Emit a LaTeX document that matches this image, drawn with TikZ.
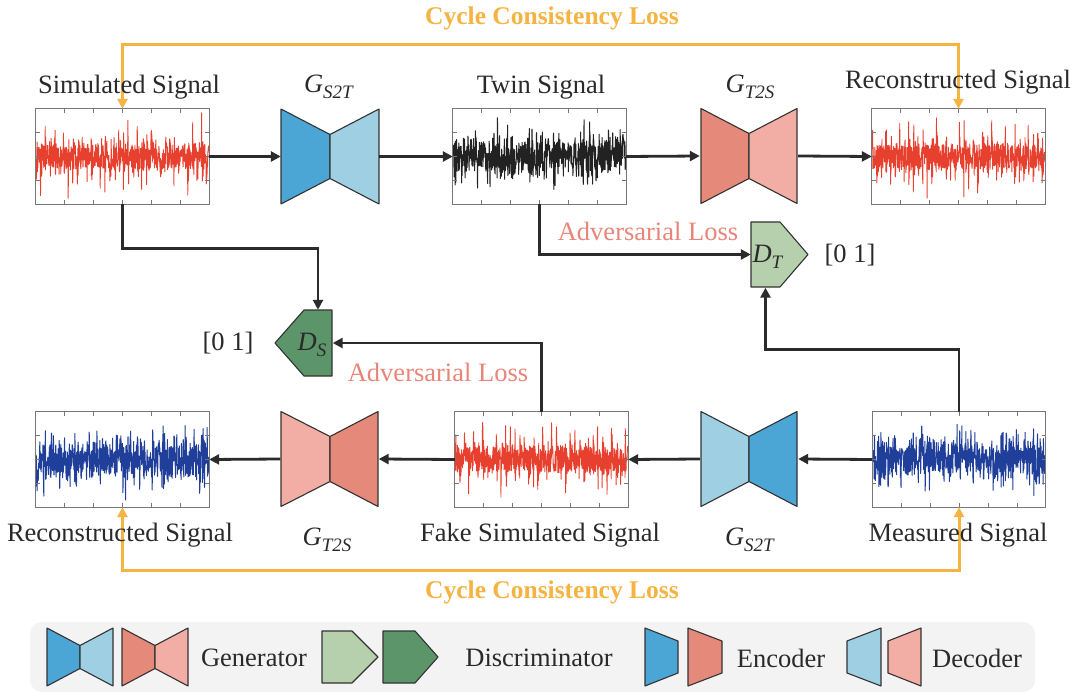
\documentclass[tikz,border=0pt]{standalone}
\usepackage{fontspec}
\setmainfont{Liberation Serif}
\usetikzlibrary{arrows.meta,calc}
\definecolor{encB}{HTML}{4BA5D5}
\definecolor{decB}{HTML}{9FCFE3}
\definecolor{encR}{HTML}{E5897B}
\definecolor{decR}{HTML}{F2ADA4}
\definecolor{discL}{HTML}{B6D0AD}
\definecolor{discD}{HTML}{5B9569}
\definecolor{edgec}{HTML}{333333}
\definecolor{arrowc}{HTML}{2B2B2B}
\definecolor{cycc}{HTML}{F5B342}
\definecolor{advc}{HTML}{E8857A}
\definecolor{boxgray}{HTML}{777777}
\definecolor{sigred}{HTML}{E8402E}
\definecolor{sigblue}{HTML}{1F3F9A}
\definecolor{sigblack}{HTML}{222222}
\definecolor{legbg}{HTML}{F3F3F3}
\definecolor{txtc}{HTML}{2A2A2A}
\newcommand\subit[2]{\textit{#1}\raisebox{-0.45ex}{\fontsize{19}{21}\selectfont\textit{#2}}}
% trapezoid: x1, x2, yc, half-height at x1, half-height at x2, fill
\newcommand\trap[6]{\filldraw[fill=#6, draw=edgec, line width=1.1pt, line join=round] (#1,{#3-#4}) -- (#2,{#3-#5}) -- (#2,{#3+#5}) -- (#1,{#3+#4}) -- cycle;}
% pentagon: flat x, corner x, tip x, yc, half height, fill
\newcommand\pent[6]{\filldraw[fill=#6, draw=edgec, line width=1.1pt, line join=round] (#1,{#4-#5}) -- (#2,{#4-#5}) -- (#3,#4) -- (#2,{#4+#5}) -- (#1,{#4+#5}) -- cycle;}
\newcommand\sigframe[1]{%
  \draw[boxgray, line width=0.8pt] (#1.north west) rectangle (#1.south east);
  \foreach \i in {1,...,5} {
    \draw[boxgray, line width=0.6pt] ($(#1.north west)!\i/6!(#1.north east)$) -- ++(0,4);
    \draw[boxgray, line width=0.6pt] ($(#1.south west)!\i/6!(#1.south east)$) -- ++(0,-4);
  }
  \foreach \i in {1,2,3} {
    \draw[boxgray, line width=0.6pt] ($(#1.north west)!\i/4!(#1.south west)$) -- ++(4,0);
    \draw[boxgray, line width=0.6pt] ($(#1.north east)!\i/4!(#1.south east)$) -- ++(-4,0);
  }}
\newcommand\sigimp[2]{%
  \begin{scope}
  \clip (#1.north west) rectangle (#1.south east);
  \begin{scope}[shift={(#1.west)}]
  \draw[#2, line width=0.9pt, line join=round] plot[domain=0.3:172.7, samples=700]
    (\x,{(11+(28+14*rand)*exp(-0.9*mod(\x,4.6)))*rand});
  \end{scope}
  \end{scope}\sigframe{#1}}
\newcommand\siggauss[2]{%
  \begin{scope}
  \clip (#1.north west) rectangle (#1.south east);
  \begin{scope}[shift={(#1.west)}]
  \draw[#2, line width=1pt, line join=round] plot[domain=0.3:172.7, samples=650]
    (\x,{10.5*(rand+rand+rand+rand)*(1+0.15*sin(\x*9))});
  \end{scope}
  \end{scope}\sigframe{#1}}
\begin{document}
\begin{tikzpicture}[x=1pt,y=-1pt,
  font=\fontsize{26.5}{31}\selectfont, text=txtc,
  sigbox/.style={fill=white, minimum width=173pt, minimum height=95pt, inner sep=0pt},
  gbox/.style={minimum width=98pt, minimum height=95pt, inner sep=0pt},
  dbox/.style={minimum width=29pt, minimum height=66pt, inner sep=0pt},
  arr/.style={draw=arrowc, line width=2.8pt, -{Triangle[length=10pt,width=10pt]}},
  cyc/.style={draw=cycc, line width=3pt, {Triangle[length=10pt,width=10pt]}-{Triangle[length=10pt,width=10pt]}},
  lbl/.style={inner sep=0pt},
  adv/.style={inner sep=0pt, text=advc},
  cyct/.style={inner sep=0pt, text=cycc, font=\fontsize{25.5}{30}\selectfont\bfseries}]
\useasboundingbox (0,0) rectangle (1080,698);
\pgfmathsetseed{42}
% signal boxes
\node[sigbox] (sim)  at (122.5,156.5) {};
\node[sigbox] (twin) at (539.5,156.5) {};
\node[sigbox] (recT) at (958.5,156.5) {};
\node[sigbox] (recB) at (122.5,459.5) {};
\node[sigbox] (fake) at (541.5,459.5) {};
\node[sigbox] (meas) at (959,459.5) {};
\sigimp{sim}{sigred}
\siggauss{twin}{sigblack}
\sigimp{recT}{sigred}
\siggauss{recB}{sigblue}
\sigimp{fake}{sigred}
\siggauss{meas}{sigblue}
% generators
\node[gbox] (gA) at (330,156.5) {};
\trap{281}{330}{156.5}{47.5}{22}{encB}\trap{330}{379}{156.5}{22}{47.5}{decB}
\node[gbox] (gB) at (749,156) {};
\trap{701}{749}{156}{47.5}{22.5}{encR}\trap{749}{797}{156}{22.5}{47.5}{decR}
\node[gbox] (gC) at (329.5,459) {};
\trap{281}{330}{459}{47.5}{22.5}{decR}\trap{330}{378}{459}{22.5}{47.5}{encR}
\node[gbox] (gD) at (749,459) {};
\trap{701}{749}{459}{47.5}{22.5}{decB}\trap{749}{797}{459}{22.5}{47.5}{encB}
% discriminators
\node[dbox] (DT) at (765.5,254.5) {};
\pent{751}{780}{808}{254.5}{32.5}{discL}
\node[lbl] at (768,257) {\subit{D}{T}};
\node[dbox] (DS) at (318,343) {};
\pent{332}{304}{275}{343}{33}{discD}
\node[lbl] at (312,345) {\subit{D}{S}};
\node[lbl] at (850,255) {[0 1]};
\node[lbl] at (228,343) {[0 1]};
% main arrows
\draw[arr] (sim.east) -- (gA.west);
\draw[arr] (gA.east) -- (twin.west);
\draw[arr] (twin.east) -- (gB.west);
\draw[arr] (gB.east) -- (recT.west);
\draw[arr] (meas.west) -- (gD.east);
\draw[arr] (gD.west) -- (fake.east);
\draw[arr] (fake.west) -- (gC.east);
\draw[arr] (gC.west) -- (recB.east);
\draw[arr] (sim.south) -- ++(0,44) -| (DS.north);
\draw[arr] (twin.south) |- (DT.west);
\draw[arr] (meas.north) -- ++(0,-62) -| (DT.south);
\draw[arr] (fake.north) |- (DS.east);
% cycle loss
\draw[cyc] (sim.north) -- ++(0,-64) -| (recT.north);
\draw[cyc] (recB.south) -- ++(0,63) -| (meas.south);
\node[cyct] at (552,18) {Cycle Consistency Loss};
\node[cyct] at (552,592) {Cycle Consistency Loss};
\node[adv] at (648,231) {Adversarial Loss};
\node[adv] at (438,372) {Adversarial Loss};
% labels
\node[lbl] at (129,87) {Simulated Signal};
\node[lbl] at (541,87) {Twin Signal};
\node[lbl] at (958,82) {Reconstructed Signal};
\node[lbl] at (120,535) {Reconstructed Signal};
\node[lbl] at (540,535) {Fake Simulated Signal};
\node[lbl] at (958,535) {Measured Signal};
\node[lbl] at (329,87) {\subit{G}{S2T}};
\node[lbl] at (750,87) {\subit{G}{T2S}};
\node[lbl] at (327,540) {\subit{G}{T2S}};
\node[lbl] at (750,540) {\subit{G}{S2T}};
% legend
\node[fill=legbg, rounded corners=12pt, minimum width=1005pt, minimum height=70pt, inner sep=0pt] (leg) at (532.5,657) {};
\trap{47}{80}{657}{29}{11.5}{encB}\trap{80}{113}{657}{11.5}{29}{decB}
\trap{122}{155}{657}{29}{11.5}{encR}\trap{155}{188}{657}{11.5}{29}{decR}
\node[lbl] at (254,658) {Generator};
\pent{322}{352}{378}{657}{26}{discL}
\pent{383}{415}{438}{657}{26}{discD}
\node[lbl] at (539,658) {Discriminator};
\trap{645}{678}{657}{29}{16}{encB}
\trap{688}{722}{657}{29}{16}{encR}
\node[lbl] at (781,658) {Encoder};
\trap{847}{881}{657}{16}{29}{decB}
\trap{888}{921}{657}{16}{29}{decR}
\node[lbl] at (977,658) {Decoder};
\end{tikzpicture}
\end{document}
